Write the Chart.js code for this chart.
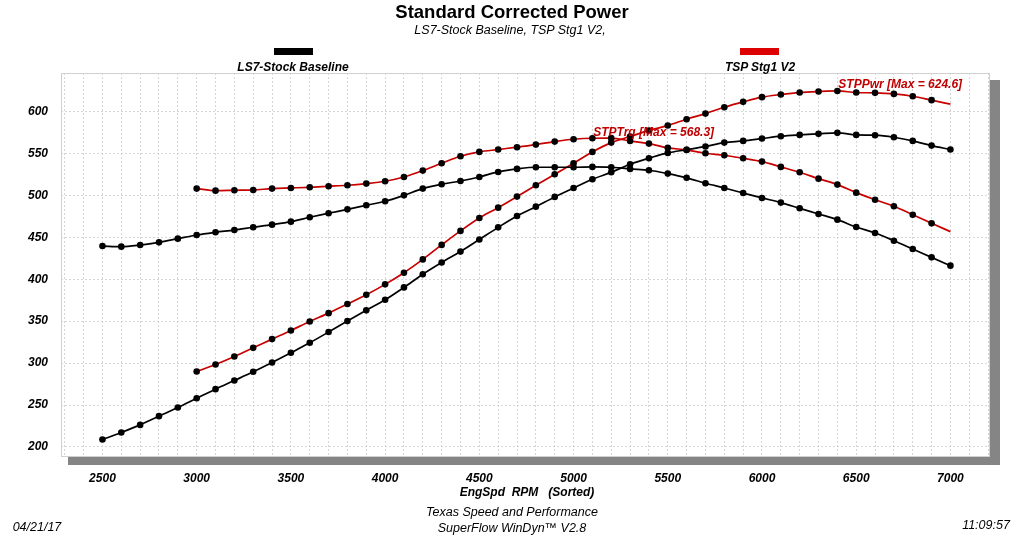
<!DOCTYPE html>
<html><head><meta charset="utf-8">
<script src="https://cdn.jsdelivr.net/npm/chart.js@4/dist/chart.umd.min.js"></script>
<style>
html,body{margin:0;padding:0;background:#fff;}
#wrap{position:relative;width:1024px;height:535px;overflow:hidden;font-family:"Liberation Sans",Arial,sans-serif;color:#000;}
#c{position:absolute;left:0;top:0;}
.t{position:absolute;transform:translate(-50%,-50%);white-space:nowrap;line-height:1;}
.bi{font-weight:bold;font-style:italic;font-size:12px;}
.i{font-style:italic;font-size:12.5px;}
.sw{position:absolute;height:7px;width:39px;}
</style></head>
<body><div id="wrap">
<canvas id="c" width="1024" height="535"></canvas>
<div class="t" style="left:512px;top:12px;font-weight:bold;font-size:18.5px">Standard Corrected Power</div>
<div class="t i" style="left:510px;top:30px">LS7-Stock Baseline, TSP Stg1 V2,</div>
<div class="sw" style="left:274px;top:48px;background:#000"></div>
<div class="t bi" style="left:293px;top:67px">LS7-Stock Baseline</div>
<div class="sw" style="left:740px;top:48px;background:#dd0000"></div>
<div class="t bi" style="left:760px;top:67px">TSP Stg1 V2</div>
<div class="t bi" style="left:527px;top:492px">EngSpd&nbsp; RPM &nbsp; (Sorted)</div>
<div class="t i" style="left:512px;top:512px;font-size:12.5px">Texas Speed and Performance</div>
<div class="t i" style="left:512px;top:528px;font-size:12.5px">SuperFlow WinDyn™ V2.8</div>
<div class="t i" style="left:37px;top:527px;font-size:12.5px">04/21/17</div>
<div class="t i" style="left:986px;top:525px;font-size:12.5px">11:09:57</div>
</div>
<script>
const rpmLS7 = [2500,2600,2700,2800,2900,3000,3100,3200,3300,3400,3500,3600,3700,3800,3900,4000,4100,4200,4300,4400,4500,4600,4700,4800,4900,5000,5100,5200,5300,5400,5500,5600,5700,5800,5900,6000,6100,6200,6300,6400,6500,6600,6700,6800,6900,7000];
const ls7Pwr = [208.8,217.2,226.3,236.7,247.0,258.0,268.9,279.2,289.6,300.7,312.3,324.2,337.0,350.1,362.9,375.5,390.3,406.0,420.0,433.0,447.4,461.9,475.5,486.6,498.2,508.9,519.3,527.6,537.2,544.3,550.7,554.5,558.4,563.0,565.0,567.8,570.6,572.2,573.4,574.6,572.2,571.8,569.4,565.0,559.4,554.7];
const ls7Trq = [439.6,438.9,440.8,444.0,448.4,452.8,456.0,458.7,462.0,465.1,468.7,473.9,478.7,483.4,488.2,493.0,500.1,508.1,513.3,517.2,522.0,528.0,531.6,533.6,533.6,533.6,534.0,533.6,531.6,530.0,526.0,521.0,514.5,508.9,502.9,497.0,491.4,484.6,477.9,471.1,462.3,455.2,446.0,436.1,426.1,416.2];
const rpmTSP = [3000,3100,3200,3300,3400,3500,3600,3700,3800,3900,4000,4100,4200,4300,4400,4500,4600,4700,4800,4900,5000,5100,5200,5300,5400,5500,5600,5700,5800,5900,6000,6100,6200,6300,6400,6500,6600,6700,6800,6900,7000];
const tspPwr = [290.0,298.3,307.9,318.2,328.6,338.9,349.7,359.6,370.4,381.5,393.9,407.8,423.7,441.0,457.7,473.1,485.4,498.6,512.1,525.2,538.4,551.9,563.0,570.2,577.5,583.3,590.9,597.6,605.2,611.6,617.2,620.3,622.7,623.9,624.6,622.7,622.3,621.1,618.3,613.6,608.8];
const tspTrq = [508.1,505.7,506.1,506.5,508.1,508.9,509.7,510.9,512.1,514.1,516.9,522.0,529.6,538.4,546.7,551.9,554.7,557.5,560.6,564.2,567.0,568.2,568.3,565.0,561.8,556.7,554.3,550.3,547.9,544.3,540.3,534.0,527.6,520.0,512.9,503.3,494.9,487.0,477.0,466.7,456.8];
const xTickLabels = [2500,3000,3500,4000,4500,5000,5500,6000,6500,7000];
const yTickLabels = [200,250,300,350,400,450,500,550,600];

const BLACK = '#000000', RED = '#c80000';
function mk(label, xs, ys, color, markLast) {
  return {
    label, data: xs.map((x, i) => ({x, y: ys[i]})),
    borderColor: color, borderWidth: 1.7,
    pointBackgroundColor: '#000', pointBorderColor: '#000', pointBorderWidth: 0,
    pointRadius: c => (!markLast && c.dataIndex === xs.length - 1) ? 0 : 3.3,
    cubicInterpolationMode: 'monotone', fill: false
  };
}
const FONT = {family: '"Liberation Sans", Arial, sans-serif', size: 12, weight: 'bold', style: 'italic'};

const decor = {
  id: 'decor',
  beforeDraw(chart) {
    const {ctx, chartArea: a} = chart;
    ctx.save();
    ctx.fillStyle = '#fff';
    ctx.fillRect(0, 0, chart.width, chart.height);
    ctx.fillStyle = '#858585';
    ctx.fillRect(a.left + 7, a.bottom, a.right + 10 - (a.left + 7), 8);
    ctx.fillRect(a.right, a.top + 7, 10, a.bottom + 8 - (a.top + 7));
    ctx.strokeStyle = '#d0d0d0';
    ctx.lineWidth = 1;
    ctx.strokeRect(a.left + 0.5, a.top + 0.5, a.right - a.left - 1, a.bottom - a.top - 1);
    ctx.restore();
  },
  afterDatasetsDraw(chart) {
    const {ctx, scales: {x, y}} = chart;
    const note = (name, ys, dx, dy) => {
      let mi = 0;
      ys.forEach((v, i) => { if (v > ys[mi]) mi = i; });
      const px = x.getPixelForValue(rpmTSP[mi]), py = y.getPixelForValue(ys[mi]);
      ctx.fillText(name + ' [Max = ' + ys[mi].toFixed(1) + ']', px + dx, py + dy);
    };
    ctx.save();
    ctx.fillStyle = '#c00000';
    ctx.font = 'italic bold 12px "Liberation Sans", Arial, sans-serif';
    ctx.textAlign = 'left';
    ctx.textBaseline = 'alphabetic';
    note('STPPwr', tspPwr, 1, -3);
    note('STPTrq', tspTrq, -18, -2);
    ctx.restore();
  }
};

new Chart(document.getElementById('c'), {
  type: 'line',
  data: {datasets: [
    mk('LS7 Pwr', rpmLS7, ls7Pwr, BLACK, true),
    mk('LS7 Trq', rpmLS7, ls7Trq, BLACK, true),
    mk('TSP Pwr', rpmTSP, tspPwr, RED, false),
    mk('TSP Trq', rpmTSP, tspTrq, RED, false)
  ]},
  options: {
    responsive: false, animation: false, devicePixelRatio: 1,
    layout: {padding: {top: 73, right: 34, left: 0, bottom: 0}},
    plugins: {legend: {display: false}, tooltip: {enabled: false}, title: {display: false}},
    scales: {
      x: {
        type: 'linear', min: 2280, max: 7210,
        afterBuildTicks: s => { const t = []; for (let v = 2300; v <= 7200; v += 100) t.push({value: v}); s.ticks = t; },
        afterFit: s => { s.height = 78; },
        ticks: {autoSkip: false, maxRotation: 0, padding: 14, color: '#000', font: FONT,
          callback: v => xTickLabels.includes(v) ? String(v) : ''},
        grid: {color: '#d6d6d6', lineWidth: 1, drawTicks: false},
        border: {display: false, dash: [2, 2]}
      },
      y: {
        type: 'linear', min: 188, max: 646,
        afterBuildTicks: s => { s.ticks = yTickLabels.map(v => ({value: v})); },
        afterFit: s => { s.width = 61; },
        ticks: {padding: 13, color: '#000', font: FONT},
        grid: {color: '#d6d6d6', lineWidth: 1, drawTicks: false},
        border: {display: false, dash: [2, 2]}
      }
    }
  },
  plugins: [decor]
});
</script>
</body></html>
